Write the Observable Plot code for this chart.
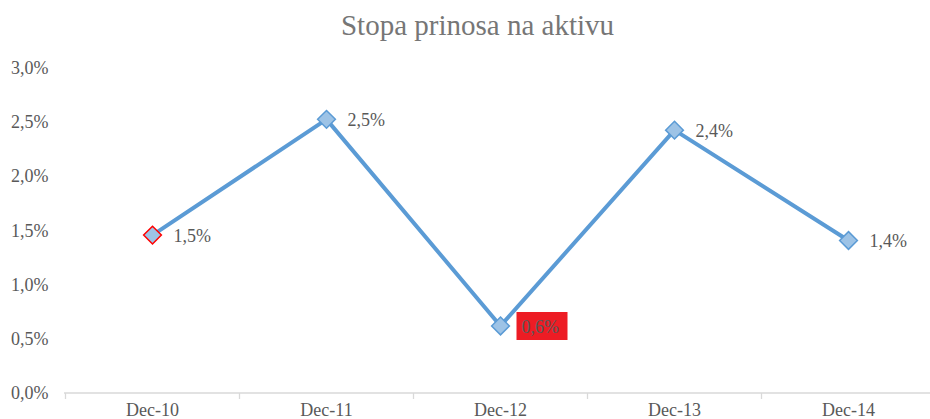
<!DOCTYPE html>
<html>
<head>
<meta charset="utf-8">
<script src="https://cdn.jsdelivr.net/npm/d3@7"></script>
<script src="https://cdn.jsdelivr.net/npm/@observablehq/plot@0.6"></script>
<style>
  html, body { margin: 0; padding: 0; background: #fff; }
  #chart svg { display: block; }
  #chart svg, #chart svg text { font-family: "Liberation Serif", "Times New Roman", serif !important; }
</style>
</head>
<body>
<div id="chart"></div>
<script>
const title = "Stopa prinosa na aktivu";
const categories = ["Dec-10", "Dec-11", "Dec-12", "Dec-13", "Dec-14"];
const values = [1.46, 2.53, 0.62, 2.43, 1.41];
const labels = ["1,5%", "2,5%", "0,6%", "2,4%", "1,4%"];
const yTicks = [0, 0.5, 1, 1.5, 2, 2.5, 3];
const highlightedMarker = "Dec-10";
const highlightedLabel = "Dec-12";

const data = categories.map((c, i) => ({cat: c, value: values[i], label: labels[i]}));

const boxSymbol = {
  draw(context) {
    context.rect(16, -14, 51, 28);
  }
};

const fmt = d => d.toFixed(1).replace(".", ",") + "%";
const grey = "#595959";

const chart = Plot.plot({
  width: 930,
  height: 419,
  marginTop: 68,
  marginBottom: 26,
  marginLeft: 64,
  marginRight: 0,
  style: {fontSize: "18px", color: grey, background: "#fff"},
  x: {type: "band", domain: categories, range: [64, 935], padding: 0, label: null},
  y: {domain: [0, 3], range: [392.5, 68], label: null},
  marks: [
    Plot.ruleY([0], {stroke: "#d9d9d9", strokeWidth: 1.3}),
    Plot.axisX({tickSize: 6, stroke: "#d9d9d9", strokeWidth: 1.3, dx: -87, text: null}),
    Plot.axisX({tickSize: 0, tickPadding: 10, fill: grey, fontSize: 18}),
    Plot.axisY({ticks: yTicks, tickSize: 0, tickPadding: 16, tickFormat: fmt, fill: grey, fontSize: 18}),
    Plot.line(data, {x: "cat", y: "value", stroke: "#5b9bd5", strokeWidth: 4}),
    Plot.dot(data, {x: "cat", y: "value", symbol: "diamond2", r: 8, fill: "#9dc3e6",
      stroke: d => d.cat === highlightedMarker ? "#ff0000" : "#5b9bd5", strokeWidth: 1.5}),
    Plot.dot(data.filter(d => d.cat === highlightedLabel), {x: "cat", y: "value", symbol: boxSymbol, fill: "#ed1c24", stroke: "none"}),
    Plot.text(data, {x: "cat", y: "value", text: "label", dx: 21, dy: 1, textAnchor: "start", fill: grey, fontSize: 18}),
    Plot.text([title], {frameAnchor: "top", lineAnchor: "middle", dy: -43, dx: -20, fill: "#767676", fontSize: 29})
  ]
});
document.getElementById("chart").appendChild(chart);
</script>
</body>
</html>
